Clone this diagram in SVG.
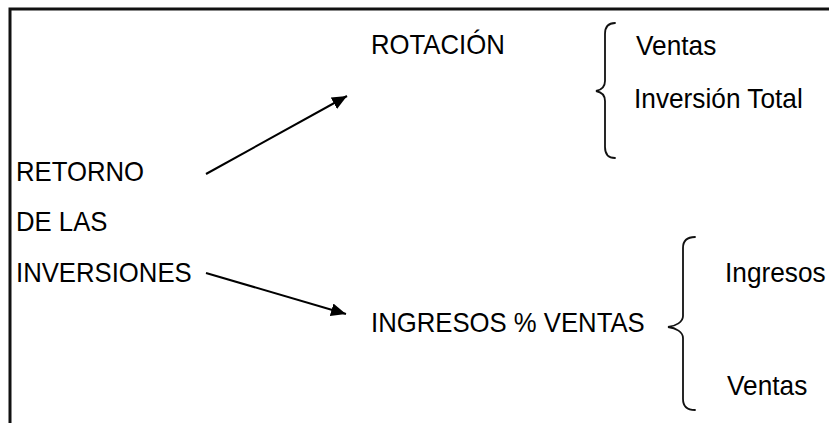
<svg xmlns="http://www.w3.org/2000/svg" width="829" height="423" viewBox="0 0 829 423">
  <style>
    .t { font-family: "Liberation Sans", Arial, sans-serif; font-size: 27.5px; fill: #000; }
    .ln { fill: none; stroke: #000; stroke-width: 2; }
    .br { fill: none; stroke: #111; stroke-width: 1.8; stroke-linecap: round; }
    .frame { fill: none; stroke: #111; stroke-width: 3; }
  </style>
  <defs>
    <marker id="arrow" markerUnits="userSpaceOnUse" markerWidth="15" markerHeight="13" refX="15" refY="6.5" orient="auto">
      <path d="M0,0 L15,6.5 L0,13 z" fill="#000"/>
    </marker>
  </defs>

  <!-- frame: top and left rules -->
  <path class="frame" d="M10,423 V9 H829"/>

  <!-- labels use a slightly narrowed sans face -->
  <g id="retorno">
    <text class="t" transform="translate(16,181) scale(0.935,1)">RETORNO</text>
    <text class="t" transform="translate(16,231) scale(0.935,1)">DE LAS</text>
    <text class="t" transform="translate(16,282) scale(0.935,1)">INVERSIONES</text>
  </g>

  <g id="rotacion">
    <text class="t" transform="translate(371,54) scale(0.935,1)">ROTACIÓN</text>
  </g>

  <g id="rotacion-items">
    <path class="br" d="M615,23 C608,23 605,27 605,34 L605,81 C605,87 601,90 596,91 C601,92 605,95 605,101 L605,147 C605,154 608,158 615,158"/>
    <text class="t" transform="translate(636,55) scale(0.955,1)">Ventas</text>
    <text class="t" transform="translate(634,108) scale(0.955,1)">Inversión Total</text>
  </g>

  <g id="ingresos-ventas">
    <text class="t" transform="translate(371,332) scale(0.935,1)">INGRESOS % VENTAS</text>
  </g>

  <g id="ingresos-items">
    <path class="br" d="M695,237 C687,237 683,241 683,248 L683,316 C683,322 676,326 668,327 C676,328 683,332 683,338 L683,399 C683,406 687,410 695,410"/>
    <text class="t" transform="translate(725,282) scale(0.955,1)">Ingresos</text>
    <text class="t" transform="translate(727,395) scale(0.955,1)">Ventas</text>
  </g>

  <g id="connectors">
    <line class="ln" x1="206" y1="174" x2="347" y2="96" marker-end="url(#arrow)"/>
    <line class="ln" x1="206" y1="273" x2="346" y2="314" marker-end="url(#arrow)"/>
  </g>
</svg>
